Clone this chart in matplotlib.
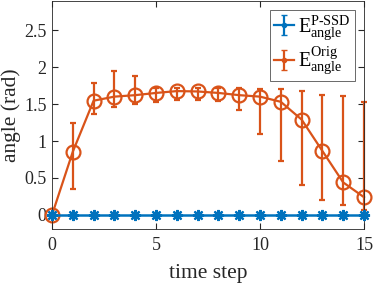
import numpy as np
import matplotlib.pyplot as plt

plt.rcParams['font.family'] = ['Liberation Serif', 'DejaVu Serif']
plt.rcParams['mathtext.fontset'] = 'custom'
plt.rcParams['mathtext.rm'] = 'Liberation Serif'
plt.rcParams['mathtext.it'] = 'Liberation Serif:italic'

# donnees
t = np.arange(0, 16)
pssd = np.zeros(16)
pssd_err = np.zeros(16)
orig = [0.0, 0.855, 1.545, 1.60, 1.62, 1.65, 1.675, 1.67, 1.65, 1.62, 1.60, 1.53, 1.29, 0.865, 0.44, 0.24]
orig_hi = [0.0, 1.24, 1.79, 1.94, 1.88, 1.72, 1.72, 1.71, 1.72, 1.71, 1.70, 1.70, 1.67, 1.62, 1.61, 1.53]
orig_lo = [0.0, 0.35, 1.37, 1.46, 1.50, 1.53, 1.56, 1.55, 1.545, 1.42, 1.10, 0.73, 0.40, 0.20, 0.135, 0.07]

blue = '#0072BD'
orange = '#D95319'
lab_pssd = r'$\mathrm{E}^{\mathrm{P‐SSD}}_{\mathrm{angle}}$'
lab_orig = r'$\mathrm{E}^{\mathrm{Orig}}_{\mathrm{angle}}$'

fig = plt.figure(figsize=(3.74, 2.84), dpi=100)
ax = fig.add_axes([52/374, 1-229/284, 312/374, 228.5/284])

yerr = [np.array(orig) - np.array(orig_lo), np.array(orig_hi) - np.array(orig)]
b = ax.errorbar(t, pssd, yerr=pssd_err, color=blue, marker=(8, 2, 0), ms=8, mew=1.6, lw=1.8,
                capsize=2.5, zorder=3, clip_on=False)
o = ax.errorbar(t, orig, yerr=yerr, color=orange, marker='o', ms=10, mfc='none', mew=1.6,
                lw=1.6, elinewidth=1.6, capsize=2.5, zorder=2, clip_on=False)
for c in (b, o):
    for art in c.get_children():
        art.set_clip_on(False)

# proxies pour la legende (style matlab : point + barre)
pb = ax.errorbar([np.nan], [np.nan], yerr=[1], color=blue, marker='.', ms=6, lw=1.6, capsize=2.5)
po = ax.errorbar([np.nan], [np.nan], yerr=[1], color=orange, marker='.', ms=6, lw=1.6, capsize=2.5)

ax.set_xlim(0, 15)
ax.set_ylim(-0.19, 2.9)
ax.set_xticks([0, 5, 10, 15])
ax.set_yticks([0, 0.5, 1, 1.5, 2, 2.5])
ax.set_yticklabels(['0', '0.5', '1', '1.5', '2', '2.5'])
ax.tick_params(direction='in', top=True, right=True, labelsize=13, length=4, colors='#262626')
ax.tick_params(axis='x', pad=6)
ax.tick_params(axis='y', pad=4)
for s in ax.spines.values():
    s.set_color('#262626')
    s.set_linewidth(0.6)
ax.set_xlabel('time step', fontsize=15.5, color='#262626')
ax.set_ylabel('angle (rad)', fontsize=15.5, color='#262626')
ax.xaxis.set_label_coords(0.5, -0.153)
ax.yaxis.set_label_coords(-0.1, 0.5)

leg = ax.legend([pb, po], [lab_pssd, lab_orig], loc='upper right', fontsize=14.5,
                handlelength=1.0, handletextpad=0.2, borderpad=0.2, labelspacing=0.1,
                fancybox=False, borderaxespad=0.45)
leg.get_frame().set_edgecolor('#262626')
leg.get_frame().set_linewidth(0.6)

fig.savefig('out.png', dpi=100)
